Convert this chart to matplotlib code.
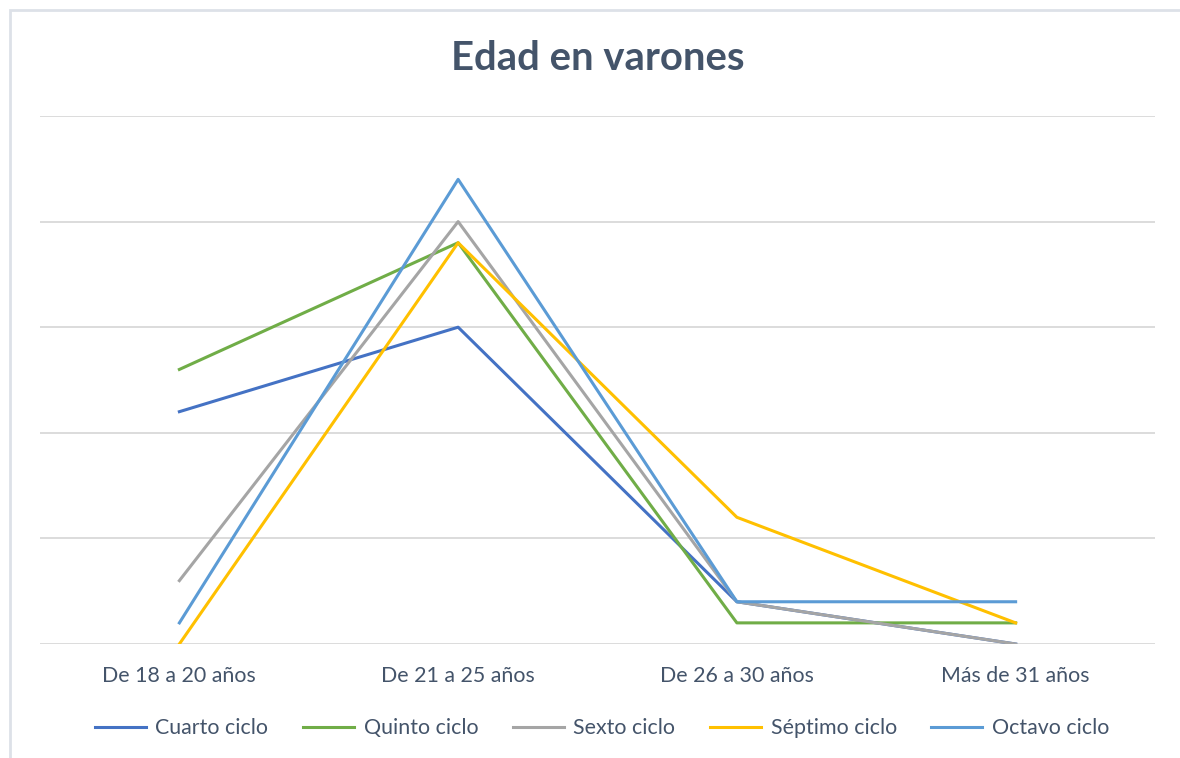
import matplotlib.pyplot as plt
from matplotlib.patches import Rectangle

# Datos
categorias = ["De 18 a 20 años", "De 21 a 25 años", "De 26 a 30 años", "Más de 31 años"]
cuarto = [11, 15, 2, 0]
quinto = [13, 19, 1, 1]
sexto = [3, 20, 2, 0]
septimo = [0, 19, 6, 1]
octavo = [1, 22, 2, 2]

series = [
    ("Cuarto ciclo", cuarto, "#4472C4"),
    ("Quinto ciclo", quinto, "#70AD47"),
    ("Sexto ciclo", sexto, "#A5A5A5"),
    ("Séptimo ciclo", septimo, "#FFC000"),
    ("Octavo ciclo", octavo, "#5B9BD5"),
]

TEXT = "#44546A"
plt.rcParams['font.family'] = ['Lato', 'DejaVu Sans']

W, H = 1180, 758
fig = plt.figure(figsize=(W / 100, H / 100), dpi=100)

# Borde del área del gráfico
fig.patches.append(Rectangle((10 / W, -0.1), 1.5, (H - 10) / H + 0.1,
                             transform=fig.transFigure, fill=False,
                             edgecolor="#DDE1E8", linewidth=2))

ax = fig.add_axes([40 / W, (H - 644) / H, (1155 - 40) / W, (644 - 116) / H])
x = range(len(categorias))
for nombre, valores, color in series:
    ax.plot(x, valores, color=color, linewidth=2.2, label=nombre)

ax.set_xlim(-0.5, 3.5)
ax.set_ylim(0, 25)
ax.set_yticks(range(0, 26, 5))
ax.yaxis.grid(True, color="#D9D9D9", linewidth=1.3)
ax.set_axisbelow(True)
ax.tick_params(axis="y", left=False, labelleft=False)
ax.tick_params(axis="x", length=0, pad=16, labelsize=15.4, labelcolor=TEXT)
ax.set_xticks(list(x))
ax.set_xticklabels(categorias)
for s in ax.spines.values():
    s.set_visible(False)

fig.text(598 / W, (H - 58) / H, "Edad en varones", ha="center", va="center",
         fontsize=28.8, fontweight="bold", color=TEXT)

fig.legend(loc="center", bbox_to_anchor=(602 / W, (H - 728) / H), ncol=5,
           frameon=False, fontsize=15.4, labelcolor=TEXT,
           handlelength=2.4, handletextpad=0.45, columnspacing=1.6)

fig.savefig("out.png", dpi=100)
